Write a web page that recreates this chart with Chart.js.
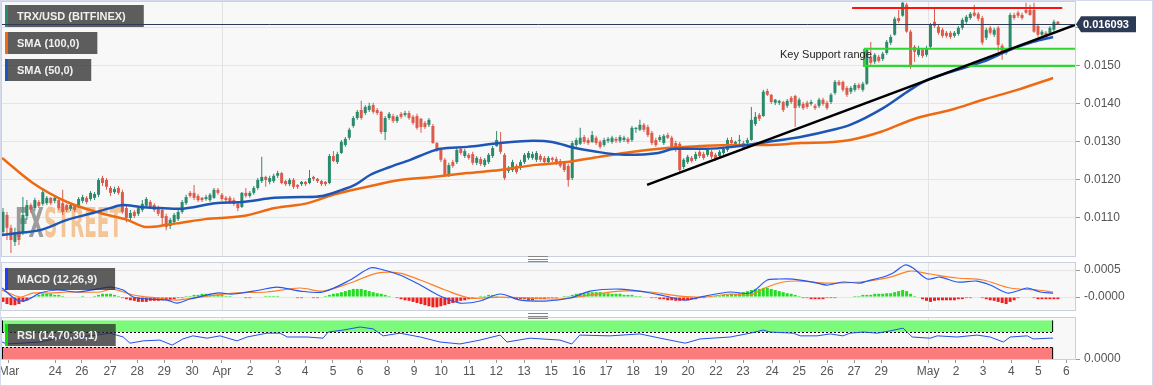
<!DOCTYPE html>
<html>
<head>
<meta charset="utf-8">
<script src="https://cdn.jsdelivr.net/npm/chart.js@4.4.1/dist/chart.umd.min.js"></script>
<style>
  html, body { margin: 0; padding: 0; background: #fff; }
  #wrap { position: relative; width: 1153px; height: 386px; overflow: hidden; }
  #wrap canvas { position: absolute; left: 0; }
  .grip { position: absolute; left: 528px; width: 20px; height: 4px; border-top: 1px solid #888; border-bottom: 1px solid #888; }
  .grip:after { content: ''; position: absolute; left: 0; right: 0; top: 1.5px; border-top: 1px solid #888; }
  #frame { position: absolute; left: 0; top: 0; width: 1151px; height: 384px; border: 1px solid #d5dbec; pointer-events: none; }
</style>
</head>
<body>
<div id="wrap">
  <canvas id="main" width="1153" height="258" style="top:0"></canvas>
  <canvas id="macd" width="1153" height="50" style="top:261px"></canvas>
  <canvas id="rsi" width="1153" height="70" style="top:316px"></canvas>
  <div class="grip" style="top:256px"></div>
  <div class="grip" style="top:313px"></div>
  <div id="frame"></div>
</div>
<script>
// ---- candles (4h, TRX/USD) ----
const opens = [
0.01063,0.01108,0.01074,0.01037,0.01063,0.01063,0.01105,0.01134,0.01126,0.01142,
0.01137,0.01139,0.01153,0.01145,0.01147,0.01139,0.01134,0.01124,0.01132,0.01132,
0.01145,0.01153,0.01150,0.01153,0.01161,0.01205,0.01200,0.01179,0.01168,0.01179,
0.01168,0.01126,0.01100,0.01116,0.01111,0.01121,0.01132,0.01142,0.01134,0.01126,
0.01121,0.01105,0.01079,0.01089,0.01097,0.01116,0.01139,0.01166,0.01166,0.01158,
0.01153,0.01150,0.01147,0.01153,0.01174,0.01161,0.01153,0.01153,0.01147,0.01137,
0.01129,0.01166,0.01158,0.01166,0.01179,0.01197,0.01208,0.01195,0.01197,0.01211,
0.01218,0.01197,0.01189,0.01200,0.01187,0.01189,0.01195,0.01192,0.01208,0.01203,
0.01197,0.01195,0.01192,0.01263,0.01247,0.01271,0.01292,0.01311,0.01342,0.01363,
0.01384,0.01376,0.01384,0.01397,0.01384,0.01379,0.01326,0.01363,0.01368,0.01355,
0.01374,0.01371,0.01376,0.01366,0.01368,0.01361,0.01350,0.01345,0.01342,0.01297,
0.01279,0.01253,0.01213,0.01247,0.01247,0.01282,0.01263,0.01266,0.01268,0.01245,
0.01255,0.01239,0.01247,0.01263,0.01289,0.01297,0.01266,0.01224,0.01226,0.01237,
0.01232,0.01247,0.01258,0.01258,0.01253,0.01263,0.01258,0.01247,0.01258,0.01255,
0.01250,0.01245,0.01237,0.01205,0.01292,0.01295,0.01313,0.01305,0.01300,0.01311,
0.01300,0.01292,0.01303,0.01300,0.01308,0.01303,0.01305,0.01308,0.01305,0.01334,
0.01332,0.01345,0.01339,0.01324,0.01305,0.01305,0.01297,0.01318,0.01311,0.01297,
0.01295,0.01234,0.01247,0.01258,0.01255,0.01274,0.01268,0.01266,0.01274,0.01266,
0.01263,0.01271,0.01279,0.01305,0.01295,0.01303,0.01297,0.01297,0.01305,0.01347,
0.01371,0.01368,0.01434,0.01424,0.01403,0.01403,0.01405,0.01395,0.01416,0.01421,
0.01395,0.01400,0.01403,0.01400,0.01395,0.01395,0.01411,0.01403,0.01405,0.01429,
0.01458,0.01458,0.01442,0.01432,0.01437,0.01450,0.01437,0.01453,0.01524,0.01511,
0.01524,0.01518,0.01534,0.01561,0.01582,0.01626,0.01632,0.01661,0.01590,0.01550,
0.01529,0.01542,0.01529,0.01550,0.01616,0.01603,0.01595,0.01587,0.01587,0.01579,
0.01584,0.01600,0.01616,0.01626,0.01640,0.01637,0.01626,0.01574,0.01600,0.01582,
0.01600,0.01553,0.01534,0.01545,0.01634,0.01640,0.01634,0.01647,0.01647,0.01647,
0.01605,0.01582,0.01587,0.01587,0.01595,0.01616];
const highs = [
0.01126,0.01116,0.01082,0.01074,0.01068,0.01155,0.01147,0.01139,0.01153,0.01147,
0.01174,0.01158,0.01155,0.01158,0.01153,0.01174,0.01137,0.01139,0.01137,0.01155,
0.01161,0.01158,0.01171,0.01168,0.01205,0.01211,0.01205,0.01184,0.01182,0.01184,
0.01174,0.01132,0.01121,0.01121,0.01132,0.01147,0.01155,0.01147,0.01139,0.01132,
0.01126,0.01111,0.01100,0.01113,0.01121,0.01147,0.01161,0.01171,0.01187,0.01163,
0.01155,0.01161,0.01166,0.01179,0.01179,0.01166,0.01158,0.01158,0.01153,0.01142,
0.01168,0.01179,0.01171,0.01184,0.01205,0.01261,0.01211,0.01211,0.01216,0.01224,
0.01221,0.01200,0.01205,0.01205,0.01189,0.01197,0.01197,0.01226,0.01211,0.01205,
0.01200,0.01197,0.01268,0.01276,0.01274,0.01305,0.01313,0.01337,0.01368,0.01384,
0.01408,0.01397,0.01403,0.01403,0.01389,0.01382,0.01368,0.01379,0.01374,0.01371,
0.01379,0.01382,0.01382,0.01371,0.01374,0.01363,0.01355,0.01363,0.01347,0.01300,
0.01284,0.01258,0.01245,0.01253,0.01284,0.01287,0.01282,0.01271,0.01274,0.01263,
0.01261,0.01258,0.01271,0.01289,0.01329,0.01326,0.01271,0.01237,0.01253,0.01242,
0.01253,0.01271,0.01276,0.01274,0.01276,0.01268,0.01263,0.01263,0.01261,0.01261,
0.01255,0.01250,0.01242,0.01303,0.01311,0.01337,0.01318,0.01311,0.01329,0.01316,
0.01305,0.01311,0.01313,0.01316,0.01313,0.01318,0.01316,0.01313,0.01342,0.01339,
0.01358,0.01350,0.01345,0.01329,0.01311,0.01318,0.01321,0.01324,0.01316,0.01303,
0.01300,0.01258,0.01266,0.01263,0.01274,0.01279,0.01274,0.01284,0.01279,0.01271,
0.01279,0.01287,0.01311,0.01313,0.01303,0.01318,0.01303,0.01311,0.01392,0.01379,
0.01376,0.01437,0.01440,0.01426,0.01413,0.01411,0.01408,0.01413,0.01421,0.01424,
0.01416,0.01405,0.01408,0.01411,0.01400,0.01416,0.01416,0.01408,0.01429,0.01463,
0.01463,0.01461,0.01447,0.01447,0.01455,0.01455,0.01458,0.01547,0.01563,0.01534,
0.01529,0.01537,0.01568,0.01582,0.01629,0.01647,0.01671,0.01666,0.01595,0.01555,
0.01553,0.01547,0.01553,0.01613,0.01653,0.01608,0.01600,0.01592,0.01592,0.01592,
0.01605,0.01626,0.01634,0.01642,0.01661,0.01642,0.01632,0.01600,0.01605,0.01600,
0.01605,0.01558,0.01547,0.01640,0.01640,0.01645,0.01640,0.01666,0.01661,0.01666,
0.01611,0.01595,0.01592,0.01605,0.01621,0.01618];
const lows = [
0.01053,0.01042,0.01008,0.01026,0.01029,0.01055,0.01095,0.01113,0.01118,0.01126,
0.01132,0.01134,0.01134,0.01139,0.01121,0.01108,0.01116,0.01118,0.01116,0.01126,
0.01139,0.01137,0.01145,0.01147,0.01155,0.01184,0.01174,0.01158,0.01163,0.01161,
0.01111,0.01089,0.01095,0.01100,0.01105,0.01116,0.01126,0.01124,0.01116,0.01105,
0.01079,0.01068,0.01071,0.01084,0.01092,0.01111,0.01134,0.01153,0.01147,0.01142,
0.01142,0.01145,0.01142,0.01150,0.01161,0.01145,0.01142,0.01137,0.01132,0.01118,
0.01126,0.01153,0.01153,0.01161,0.01174,0.01192,0.01182,0.01189,0.01192,0.01205,
0.01189,0.01184,0.01184,0.01176,0.01176,0.01184,0.01184,0.01189,0.01197,0.01192,
0.01184,0.01184,0.01189,0.01247,0.01242,0.01268,0.01287,0.01305,0.01337,0.01358,
0.01358,0.01371,0.01379,0.01374,0.01371,0.01321,0.01305,0.01358,0.01350,0.01350,
0.01361,0.01366,0.01358,0.01345,0.01332,0.01324,0.01334,0.01339,0.01295,0.01274,
0.01247,0.01208,0.01208,0.01232,0.01242,0.01266,0.01258,0.01253,0.01239,0.01239,
0.01237,0.01234,0.01242,0.01258,0.01287,0.01268,0.01200,0.01218,0.01221,0.01216,
0.01226,0.01242,0.01253,0.01253,0.01247,0.01247,0.01242,0.01242,0.01247,0.01239,
0.01232,0.01221,0.01182,0.01200,0.01287,0.01292,0.01295,0.01292,0.01297,0.01292,
0.01282,0.01287,0.01297,0.01295,0.01297,0.01297,0.01300,0.01295,0.01300,0.01324,
0.01329,0.01326,0.01313,0.01292,0.01287,0.01300,0.01292,0.01308,0.01279,0.01274,
0.01221,0.01229,0.01242,0.01245,0.01250,0.01258,0.01253,0.01261,0.01255,0.01250,
0.01258,0.01266,0.01274,0.01295,0.01289,0.01292,0.01279,0.01292,0.01303,0.01342,
0.01355,0.01366,0.01421,0.01400,0.01397,0.01397,0.01379,0.01389,0.01400,0.01339,
0.01389,0.01384,0.01387,0.01395,0.01384,0.01389,0.01395,0.01384,0.01400,0.01424,
0.01447,0.01432,0.01418,0.01426,0.01432,0.01437,0.01432,0.01450,0.01503,0.01505,
0.01508,0.01513,0.01529,0.01555,0.01579,0.01613,0.01629,0.01587,0.01492,0.01511,
0.01524,0.01521,0.01524,0.01545,0.01600,0.01582,0.01574,0.01574,0.01571,0.01574,
0.01579,0.01595,0.01611,0.01621,0.01629,0.01618,0.01555,0.01568,0.01582,0.01576,
0.01537,0.01516,0.01529,0.01542,0.01621,0.01626,0.01621,0.01637,0.01632,0.01587,
0.01576,0.01576,0.01571,0.01582,0.01590,0.01608];
const closes = [
0.01116,0.01074,0.01042,0.01063,0.01042,0.01108,0.01134,0.01121,0.01147,0.01132,
0.01168,0.01153,0.01139,0.01153,0.01126,0.01116,0.01121,0.01134,0.01121,0.01150,
0.01155,0.01142,0.01166,0.01163,0.01200,0.01192,0.01182,0.01166,0.01176,0.01166,
0.01116,0.01100,0.01113,0.01105,0.01126,0.01137,0.01150,0.01129,0.01121,0.01111,
0.01100,0.01076,0.01095,0.01108,0.01116,0.01142,0.01155,0.01158,0.01153,0.01147,
0.01147,0.01155,0.01161,0.01174,0.01166,0.01150,0.01147,0.01142,0.01137,0.01126,
0.01166,0.01158,0.01166,0.01179,0.01200,0.01208,0.01200,0.01205,0.01211,0.01218,
0.01192,0.01189,0.01200,0.01182,0.01182,0.01195,0.01189,0.01205,0.01203,0.01197,
0.01189,0.01189,0.01263,0.01250,0.01268,0.01300,0.01308,0.01332,0.01363,0.01379,
0.01363,0.01392,0.01395,0.01379,0.01376,0.01326,0.01363,0.01374,0.01355,0.01366,
0.01366,0.01376,0.01363,0.01350,0.01337,0.01339,0.01339,0.01358,0.01297,0.01279,
0.01253,0.01213,0.01239,0.01237,0.01279,0.01271,0.01276,0.01258,0.01245,0.01258,
0.01242,0.01253,0.01266,0.01284,0.01305,0.01274,0.01205,0.01232,0.01247,0.01221,
0.01247,0.01266,0.01271,0.01268,0.01271,0.01253,0.01247,0.01258,0.01253,0.01245,
0.01237,0.01226,0.01200,0.01297,0.01305,0.01311,0.01300,0.01297,0.01318,0.01297,
0.01287,0.01305,0.01308,0.01311,0.01303,0.01313,0.01311,0.01300,0.01337,0.01337,
0.01345,0.01332,0.01318,0.01297,0.01292,0.01313,0.01316,0.01311,0.01284,0.01279,
0.01226,0.01253,0.01261,0.01250,0.01268,0.01263,0.01258,0.01279,0.01261,0.01255,
0.01274,0.01282,0.01305,0.01297,0.01300,0.01305,0.01284,0.01305,0.01358,0.01366,
0.01361,0.01432,0.01424,0.01405,0.01411,0.01408,0.01384,0.01408,0.01405,0.01389,
0.01411,0.01389,0.01392,0.01405,0.01389,0.01411,0.01400,0.01389,0.01424,0.01458,
0.01450,0.01437,0.01424,0.01442,0.01450,0.01442,0.01453,0.01542,0.01508,0.01529,
0.01513,0.01532,0.01563,0.01576,0.01624,0.01618,0.01666,0.01590,0.01500,0.01537,
0.01547,0.01526,0.01547,0.01608,0.01605,0.01587,0.01579,0.01579,0.01576,0.01587,
0.01600,0.01621,0.01629,0.01637,0.01632,0.01624,0.01561,0.01595,0.01587,0.01595,
0.01555,0.01532,0.01542,0.01634,0.01626,0.01632,0.01626,0.01640,0.01634,0.01590,
0.01582,0.01590,0.01576,0.01600,0.01616,0.01609];
const lastPrice = 0.016093;

// ---- moving averages (candle index, price) ----
const sma100Idx = [-0.25,7.5,16.1,24.4,31.2,36.2,41.2,44.5,50.8,60.3,68.3,76.6,82.9,91.5,99.7,108,116.6,124.9,133.2,141.7,150,158.3,166.8,175.1,183.4,192,200.3,208.5,212.8,220.4,229.6,238,246.2,254.8,263.8];
const sma100 = [0.01258,0.01192,0.01142,0.01113,0.01095,0.01076,0.01082,0.01087,0.01097,0.01105,0.01126,0.01139,0.01161,0.01182,0.01200,0.01208,0.01218,0.01226,0.01239,0.01247,0.01261,0.01274,0.01284,0.01289,0.01292,0.01292,0.01297,0.01300,0.01305,0.01326,0.01363,0.01384,0.01411,0.01437,0.01468];
const sma50Idx = [-0.25,4.3,9.3,16.1,22.6,26.9,30.2,34.4,39.4,44.5,48.2,53.3,60,68.3,75.1,80.2,85.2,88.4,92.2,97.2,102.3,107.3,109.8,116.6,124.9,133.2,137.9,143.7,148,156.3,164.6,168.8,176.4,183.4,192,200.3,208.5,212.8,221.1,227.9,232.2,238,246.2,253,258.8,263.8];
const sma50 = [0.01055,0.01061,0.01068,0.01095,0.01113,0.01126,0.01134,0.01129,0.01126,0.01124,0.01129,0.01139,0.01142,0.01153,0.01155,0.01158,0.01174,0.01187,0.01213,0.01234,0.01253,0.01274,0.01282,0.01287,0.01297,0.01303,0.01300,0.01284,0.01276,0.01266,0.01271,0.01282,0.01282,0.01287,0.01300,0.01313,0.01332,0.01345,0.01389,0.01437,0.01463,0.01484,0.01511,0.01542,0.01563,0.01576];

// ---- drawn annotations ----
const trendIdx = [161.8, 269.3];
const trendPrice = [0.01187, 0.01608];
const resistIdx = [213.3, 266.1];
const resistPrice = [0.01652, 0.01652];
const supportIdx = [216.3, 269.6];
const supportPrice = [0.01500, 0.01545];
const supportText = 'Key Support range';
const supportTextAt = [195.2, 0.01529];

// ---- MACD (12,26,9) ----
const macdIdx = [-0.25,3.5,6,9.3,13.6,18.6,23.6,26.9,30.2,32.7,36.9,41.2,43.7,47,53.8,57.8,64.6,68.8,74.6,80.4,87.2,92.2,94.7,99.7,104.8,109.8,114.8,119.8,124.9,129.9,136.2,142.5,147.5,155,161.3,166.3,171.4,176.4,182.7,187.7,192,194.5,198.5,204.5,207,211,215.3,217.1,221.1,223.6,226.6,228.6,232.2,235.4,239.7,244.7,248,252.3,254.8,257.3,260.6,263.8];
const macdLine = [0.000167,-0.000056,-0.000056,0.000074,0.00013,0.000093,0.000148,0.000185,0.00013,0,-0.000037,-0.000056,-0.000111,-0.000037,0.000074,0.000056,0.00013,0.000185,0.000111,0.000093,0.000315,0.000537,0.000519,0.000407,0.000222,0.0000185,-0.000111,-0.000074,0.000056,-0.000056,-0.000074,-0.0000185,0.000111,0.000148,0.000093,0.0000185,-0.000056,0.0000185,0.000093,0.000074,0.000315,0.000333,0.000333,0.000259,0.000222,0.000278,0.000259,0.000296,0.00037,0.000444,0.000593,0.000537,0.000333,0.00037,0.000278,0.000296,0.000222,0.000074,0.000111,0.000167,0.000093,0.000074];
const signalIdx = [-0.25,4.3,7.5,11.8,16.1,24.4,27.6,32.7,38.7,43.7,49.5,57.8,66.3,74.6,80.4,87.2,94,99.7,104.8,111.1,117.3,124.9,132.4,139.9,147.5,155,162.6,170.1,176.4,182.7,187.7,192,196,200.3,207,215.3,222.9,227.9,232.9,239.7,246.2,253,259.8,263.8];
const signalLine = [0.00013,0,0.000074,0.000074,0.000093,0.000093,0.000148,0.000037,-0.0000185,-0.000056,0,0.000074,0.000093,0.000167,0.000111,0.000259,0.000444,0.000444,0.000315,0.00013,-0.0000185,0,-0.0000185,-0.000037,0.000037,0.000111,0.000093,0.0000185,0,0.000056,0.000037,0.000185,0.000278,0.000296,0.000259,0.000278,0.00037,0.000481,0.000426,0.000352,0.000315,0.000167,0.00013,0.000093];
const macdHist = [
-0.00009,-0.00013,-0.00015,-0.00015,-0.00013,-0.00009,-0.00006,-0.00002,
0.00002,0.00004,0.00006,0.00006,0.00006,0.00004,0.00004,0.00002,
0,0,0,0,0.00002,0,0,0.00002,
0.00004,0.00006,0.00006,0.00006,0.00004,0.00002,
-0.00002,-0.00004,-0.00006,-0.00007,-0.00009,-0.00009,-0.00009,-0.00007,-0.00007,-0.00007,-0.00006,-0.00006,-0.00006,-0.00004,-0.00002,-0.00002,
0.00002,0.00002,0.00004,0.00004,0.00006,0.00006,0.00006,0.00004,0.00004,0.00004,0.00002,0.00002,
0,0,0,-0.00002,-0.00002,0,0,0,0.00002,0.00002,0.00002,0.00002,0,0,0,0,-0.00002,-0.00002,0,0,-0.00002,-0.00002,0,
0.00002,0.00004,0.00006,0.00007,0.00009,0.00011,0.00013,0.00015,0.00015,0.00015,0.00013,0.00011,0.00009,0.00007,
0.00006,0.00004,0.00002,0,-0.00002,
-0.00004,-0.00006,-0.00007,-0.00009,-0.00011,
-0.00013,-0.00015,-0.00017,-0.00019,-0.00019,-0.00017,-0.00015,-0.00013,-0.00011,-0.00009,-0.00007,-0.00006,-0.00004,-0.00002,
0,0.00002,0.00002,0.00004,0.00004,0.00002,0,0,-0.00002,
-0.00002,-0.00004,-0.00004,-0.00004,-0.00006,-0.00006,-0.00004,-0.00004,-0.00004,-0.00002,-0.00002,-0.00002,0,
0.00002,0.00002,0.00004,0.00006,0.00007,0.00007,0.00009,0.00009,0.00009,0.00009,0.00007,0.00007,0.00006,0.00006,0.00006,0.00004,0.00004,0.00004,0.00002,0.00002,
0,0,-0.00002,-0.00002,-0.00004,-0.00004,-0.00006,
-0.00006,-0.00007,-0.00007,-0.00006,-0.00006,-0.00004,-0.00004,-0.00002,-0.00002,0,0,
0.00002,0.00002,0.00004,0.00004,0.00006,0.00006,0.00007,
0.00009,0.00011,0.00013,0.00015,0.00015,0.00017,0.00017,0.00015,0.00013,0.00011,0.00009,0.00007,
0.00006,0.00004,0.00002,-0.00002,-0.00002,-0.00004,-0.00004,-0.00004,-0.00004,-0.00002,-0.00002,-0.00002,0,0,0,0,
0.00002,0.00002,0.00004,0.00004,0.00004,0.00006,0.00006,0.00006,0.00007,0.00007,0.00009,0.00011,0.00013,0.00011,
0.00006,0.00002,0,
-0.00004,-0.00007,-0.00009,-0.00007,-0.00006,-0.00006,-0.00006,-0.00006,-0.00006,-0.00004,-0.00004,-0.00002,-0.00002,
0,0,-0.00002,-0.00004,-0.00006,
-0.00007,-0.00009,-0.00011,-0.00013,-0.00009,-0.00006,
-0.00002,0,0,0,
-0.00002,-0.00004,-0.00004,-0.00004,-0.00004,-0.00004,-0.00004];

// ---- RSI (14,70,30,1) ----
const rsiIdx = [-0.25,1,4.3,9.3,13.6,18.6,23.6,26.9,30.2,31.9,35.2,39.4,42.5,45.2,47.7,51.3,54.5,58.8,61.3,66.3,69.6,71.4,76.4,80.4,81.7,85.4,89.7,93,95.5,99.7,104.8,109.8,114.8,119.8,124.9,126.6,132.4,139.9,142.9,144.9,152.5,160,165.1,171.4,175.1,182.7,187.7,191,192.7,198.5,200.3,204.5,207.8,211,212.8,216.1,219.6,222.9,226.1,228.4,232.9,234.7,239.7,244.7,248,251.3,253,257.3,258.8,263.1,263.8];
const rsiLine = [44,39,41,44,54,57,62,67,57,41,47,49,36,52,60,54,60,47,57,67,67,57,57,54,70,75,83,78,60,67,57,44,39,49,62,44,54,49,39,62,60,65,54,41,52,57,67,75,70,67,60,60,65,60,67,70,67,73,80,57,54,60,57,62,57,44,57,60,52,54,54];
const rsiBands = [[70, 100], [0, 30]];

// ---- time axis ----
const tickLabels = ['Mar','24','26','27','28','29','30','Apr','2','3','4','5','6','8','9','10','11','12','13','15','16','17','18','19','20','22','23','24','25','26','27','29','May','2','3','4','5','6'];
const tickIdx = [1.5,13.1,19.8,26.9,33.7,40.5,47.5,55,62.1,69.1,75.9,82.9,89.7,96.5,103.3,110.1,117.1,123.9,130.9,137.7,144.7,151.5,158.3,165.3,172.1,179.1,185.9,193.2,200,207,213.8,220.6,232.4,239.4,246.2,253.3,260.1,267.1];
const priceTicks = [0.011, 0.012, 0.013, 0.014, 0.015, 0.016];
const priceTickLabels = ['0.0110', '0.0120', '0.0130', '0.0140', '0.0150', ''];

// ---------------------------------------------------------------
Chart.defaults.font.family = '"Liberation Sans", Arial, sans-serif';
Chart.defaults.animation = false;
Chart.defaults.responsive = false;
Chart.defaults.plugins.legend.display = false;
Chart.defaults.plugins.tooltip.enabled = false;

const X_MIN = -0.25, X_MAX = 269.3;
const AXIS_W = 78;
const UP = '#2b8a6c', DOWN = '#dc5b4b';
const FRAME = '#c9d0e2';
const LABEL = '#555';
const idx = closes.map((_, i) => i);
const candleColor = closes.map((c, i) => c >= opens[i] ? UP : DOWN);
const pts = (xs, ys) => xs.map((x, i) => ({x, y: ys[i]}));

function xAxis(display) {
  return { type: 'linear', min: X_MIN, max: X_MAX, display, offset: false, grid: { offset: false } };
}
function yAxis(min, max, values, labels) {
  return {
    position: 'right', min, max,
    afterFit(s) { s.width = AXIS_W; s.paddingTop = 0; s.paddingBottom = 0; },
    afterBuildTicks(s) { s.ticks = values.map(v => ({ value: v })); },
    ticks: { callback: (v, i) => labels[i], color: LABEL, font: { size: 12 }, padding: 4 },
    grid: { color: '#e5e5e5', tickLength: 5, tickColor: '#999' },
    border: { color: FRAME }
  };
}

function drawTag(ctx, x, y, strip, text) {
  ctx.save();
  ctx.font = 'bold 11px "Liberation Sans", Arial, sans-serif';
  const w = ctx.measureText(text).width + 30;
  ctx.fillStyle = 'rgba(42,42,42,0.75)';
  ctx.fillRect(x, y, w, 22);
  ctx.fillStyle = strip;
  ctx.fillRect(x, y, 3, 22);
  ctx.fillStyle = '#f0f0f0';
  ctx.textBaseline = 'middle';
  ctx.fillText(text, x + 12, y + 11.5);
  ctx.restore();
}

// panel background, frame and the two month lines
const panel = {
  id: 'panel',
  beforeDraw(chart) {
    const { ctx, chartArea: a } = chart;
    ctx.save();
    ctx.fillStyle = '#f8f8f8';
    ctx.fillRect(a.left, a.top, a.right - a.left, a.bottom - a.top);
    ctx.restore();
  },
  beforeDatasetsDraw(chart) {
    const { ctx, chartArea: a, scales: { x } } = chart;
    ctx.save();
    ctx.strokeStyle = '#e2e2e2';
    ctx.lineWidth = 1;
    ['Apr', 'May'].forEach(m => {
      const px = Math.round(x.getPixelForValue(tickIdx[tickLabels.indexOf(m)])) + 0.5;
      ctx.beginPath(); ctx.moveTo(px, a.top); ctx.lineTo(px, a.bottom); ctx.stroke();
    });
    ctx.restore();
  },
  afterDraw(chart) {
    const { ctx, chartArea: a } = chart;
    ctx.save();
    ctx.strokeStyle = FRAME;
    ctx.strokeRect(a.left - 0.5, a.top - 0.5, a.right - a.left + 1, a.bottom - a.top + 1);
    ctx.restore();
  }
};

const mainOverlay = {
  id: 'mainOverlay',
  beforeDatasetsDraw(chart) {
    const { ctx } = chart;
    ctx.save();
    ctx.font = 'bold 40px "DejaVu Sans", sans-serif';
    ctx.textBaseline = 'alphabetic';
    let w = ctx.measureText('FX').width;
    ctx.setTransform(29 / w, 0, 0, 1, 15, 237);
    ctx.fillStyle = '#9c9c9c';
    ctx.fillText('FX', 0, 0);
    w = ctx.measureText('STREET').width;
    ctx.setTransform(78 / w, 0, 0, 1, 44, 237);
    ctx.fillStyle = '#f3c495';
    ctx.fillText('STREET', 0, 0);
    ctx.restore();
  },
  afterDatasetsDraw(chart) {
    const { ctx, chartArea: a, scales: { x, y } } = chart;
    ctx.save();
    ctx.font = '11px "Liberation Sans", Arial, sans-serif';
    ctx.fillStyle = '#222';
    ctx.textBaseline = 'middle';
    ctx.fillText(supportText, x.getPixelForValue(supportTextAt[0]), y.getPixelForValue(supportTextAt[1]));
    ctx.restore();
    drawTag(ctx, 5, 5, '#2b8a6c', 'TRX/USD (BITFINEX)');
    drawTag(ctx, 5, 32, '#ee6a12', 'SMA (100,0)');
    drawTag(ctx, 5, 59, '#1d56b4', 'SMA (50,0)');
    const py = Math.round(y.getPixelForValue(lastPrice)) + 0.5;
    ctx.save();
    ctx.strokeStyle = '#2d3a55';
    ctx.lineWidth = 1;
    ctx.beginPath(); ctx.moveTo(0, py); ctx.lineTo(a.right + 2, py); ctx.stroke();
    ctx.restore();
  },
  afterDraw(chart) {
    const { ctx, chartArea: a, scales: { y } } = chart;
    const py = y.getPixelForValue(lastPrice);
    ctx.save();
    ctx.fillStyle = '#2d3a55';
    ctx.beginPath();
    ctx.moveTo(a.right + 1, py);
    ctx.lineTo(a.right + 6, py - 8);
    ctx.lineTo(a.right + 61, py - 8);
    ctx.lineTo(a.right + 61, py + 8);
    ctx.lineTo(a.right + 6, py + 8);
    ctx.closePath();
    ctx.fill();
    ctx.fillStyle = '#fff';
    ctx.font = 'bold 11px "Liberation Sans", Arial, sans-serif';
    ctx.textBaseline = 'middle';
    ctx.fillText(lastPrice.toFixed(6), a.right + 8, py + 0.5);
    ctx.restore();
  }
};

new Chart(document.getElementById('main'), {
  type: 'bar',
  data: {
    datasets: [
      { type: 'line', data: pts(trendIdx, trendPrice), borderColor: '#000', borderWidth: 2.5, pointRadius: 0, order: 1 },
      { type: 'line', data: pts(resistIdx, resistPrice), borderColor: '#ff1111', borderWidth: 2, pointRadius: 0, order: 1 },
      { type: 'line', data: pts([supportIdx[0], supportIdx[1], supportIdx[1], supportIdx[0], supportIdx[0]],
                                [supportPrice[1], supportPrice[1], supportPrice[0], supportPrice[0], supportPrice[1]]),
        borderColor: '#2fd62f', borderWidth: 2.2, pointRadius: 0, order: 1 },
      { type: 'line', data: pts(sma50Idx, sma50), borderColor: '#1d56b4', borderWidth: 2.5, pointRadius: 0, cubicInterpolationMode: 'monotone', order: 2 },
      { type: 'line', data: pts(sma100Idx, sma100), borderColor: '#ee6a12', borderWidth: 2.5, pointRadius: 0, cubicInterpolationMode: 'monotone', order: 2 },
      { type: 'bar', data: idx.map(i => ({ x: i, y: [lows[i], highs[i]] })), backgroundColor: candleColor, barThickness: 1, grouped: false, inflateAmount: 0, order: 4 },
      { type: 'bar', data: idx.map(i => ({ x: i, y: [opens[i], closes[i]] })), backgroundColor: candleColor, barThickness: 3, minBarLength: 1, grouped: false, inflateAmount: 0, order: 3 }
    ]
  },
  options: {
    layout: { padding: { left: 2, top: 2, bottom: 2, right: 0 } },
    scales: {
      x: xAxis(false),
      y: yAxis(0.0100, 0.01668, priceTicks, priceTickLabels)
    }
  },
  plugins: [panel, mainOverlay]
});

new Chart(document.getElementById('macd'), {
  type: 'bar',
  data: {
    datasets: [
      { type: 'line', data: pts(macdIdx, macdLine), borderColor: '#2458f0', borderWidth: 1.2, pointRadius: 0, tension: 0.3, order: 1 },
      { type: 'line', data: pts(signalIdx, signalLine), borderColor: '#ff7f27', borderWidth: 1.2, pointRadius: 0, tension: 0.3, order: 1 },
      { type: 'bar', data: idx.map(i => ({ x: i, y: macdHist[i] })), backgroundColor: macdHist.map(v => v >= 0 ? '#22dd22' : '#ee1f1f'), barThickness: 3, grouped: false, inflateAmount: 0, order: 2 }
    ]
  },
  options: {
    layout: { padding: { left: 2, top: 2, bottom: 1, right: 0 } },
    scales: {
      x: xAxis(false),
      y: yAxis(-0.00024, 0.00063, [0.0005, 0], ['0.0005', '-0.0000'])
    }
  },
  plugins: [panel, {
    id: 'macdTag',
    afterDatasetsDraw(chart) { drawTag(chart.ctx, 5, 268 - 261, '#1f3cff', 'MACD (12,26,9)'); }
  }]
});

new Chart(document.getElementById('rsi'), {
  type: 'line',
  data: {
    datasets: [
      { data: pts(rsiIdx, rsiLine), borderColor: '#2450e8', borderWidth: 1, pointRadius: 0, tension: 0 }
    ]
  },
  options: {
    layout: { padding: { left: 2, top: 2, bottom: 0, right: 0 } },
    scales: {
      x: {
        type: 'linear', min: X_MIN, max: X_MAX, offset: false,
        afterFit(s) { s.height = 27; s.paddingLeft = 0; s.paddingRight = 0; },
        afterBuildTicks(s) { s.ticks = tickIdx.map(v => ({ value: v })); },
        ticks: { callback: (v, i) => tickLabels[i], color: LABEL, font: { size: 12 }, padding: 1, maxRotation: 0, autoSkip: false },
        grid: { drawOnChartArea: false, tickLength: 4, tickColor: '#999' },
        border: { color: FRAME }
      },
      y: yAxis(0, 106.3, [0], ['0.0000'])
    }
  },
  plugins: [panel, {
    id: 'rsiBands',
    beforeDatasetsDraw(chart) {
      const { ctx, chartArea: a, scales: { x, y } } = chart;
      const x0 = a.left, x1 = x.getPixelForValue(rsiIdx[rsiIdx.length - 1]);
      ctx.save();
      rsiBands.forEach((b, k) => {
        const yTop = y.getPixelForValue(b[1]), yBot = y.getPixelForValue(b[0]);
        ctx.fillStyle = k === 0 ? 'rgb(124,250,124)' : 'rgb(250,124,124)';
        ctx.fillRect(x0, yTop, x1 - x0, yBot - yTop);
        ctx.strokeStyle = '#000';
        ctx.lineWidth = 1;
        ctx.setLineDash([]);
        ctx.beginPath();
        ctx.moveTo(x0 + 0.5, yTop); ctx.lineTo(x0 + 0.5, yBot);
        ctx.moveTo(x1 - 0.5, yTop); ctx.lineTo(x1 - 0.5, yBot);
        ctx.stroke();
        ctx.setLineDash([2, 2]);
        const edge = Math.round(k === 0 ? yBot : yTop) + 0.5;
        ctx.beginPath(); ctx.moveTo(x0, edge); ctx.lineTo(x1, edge); ctx.stroke();
      });
      ctx.restore();
    },
    afterDatasetsDraw(chart) { drawTag(chart.ctx, 5, 324 - 316, '#00e600', 'RSI (14,70,30,1)'); }
  }]
});
</script>
</body>
</html>
